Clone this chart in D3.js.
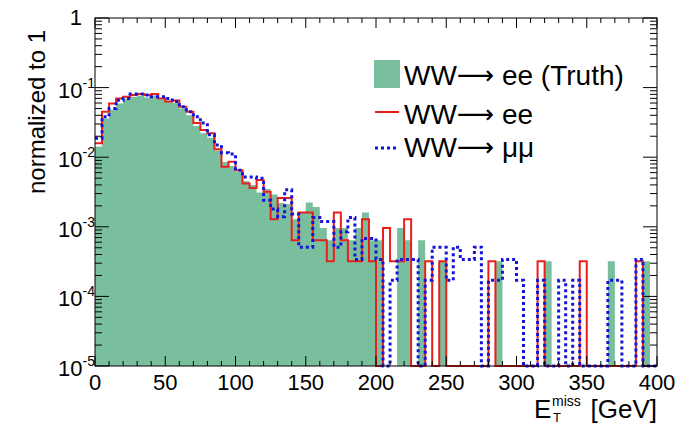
<!DOCTYPE html>
<html>
<head>
<meta charset="utf-8">
<script src="https://cdn.jsdelivr.net/npm/d3@7"></script>
<style>
body { margin: 0; background: #fff; }
text { font-family: "Liberation Sans", Arial, Helvetica, sans-serif; fill: #000; }
</style>
</head>
<body>
<div id="chart"></div>
<script>
// 5 GeV bins, 0 - 400 GeV
var binLow = d3.range(0, 400, 5);

// WW -> ee (Truth), filled
var truthEE = [
  0.0142, 0.036, 0.048, 0.059, 0.070, 0.074, 0.076, 0.072, 0.077, 0.068,
  0.063, 0.060, 0.050, 0.040, 0.028, 0.022, 0.019, 0.0125, 0.0085, 0.0075,
  0.0062, 0.0045, 0.0040, 0.0031, 0.0035, 0.0029, 0.0022, 0.0021, 0.00128, 0.0016,
  0.00224, 0.00192, 0.00096, 0.00064, 0.00096, 0.00096, 0.00064, 0.00096, 0.0016, 0.00064,
  0.00064, 0, 0, 0.00096, 0.00064, 0, 0.00064, 0, 0, 0.00032,
  0, 0, 0, 0, 0, 0, 0, 0.00032, 0, 0,
  0, 0, 0, 0, 0.00032, 0, 0, 0, 0, 0,
  0, 0, 0, 0.00032, 0, 0, 0, 0, 0.00032, 0
];

// WW -> ee, red line
var recoEE = [
  0.0158, 0.045, 0.059, 0.070, 0.074, 0.078, 0.081, 0.078, 0.081, 0.070,
  0.063, 0.065, 0.053, 0.045, 0.031, 0.0246, 0.022, 0.013, 0.0073, 0.0086,
  0.0065, 0.0042, 0.0036, 0.0047, 0.0032, 0.00128, 0.0026, 0.0026, 0.00064, 0.0016,
  0.0016, 0.00064, 0.00064, 0.00032, 0.0016, 0.00064, 0.00032, 0.00032, 0.00128, 0.00032,
  0, 0.00096, 0.00032, 0.00032, 0.00128, 0, 0, 0.00032, 0, 0.00032,
  0, 0, 0, 0, 0, 0, 0.00032, 0, 0, 0,
  0, 0, 0, 0.00032, 0, 0, 0, 0, 0, 0.00032,
  0, 0, 0, 0, 0, 0, 0, 0.00032, 0, 0
];

// WW -> mumu, blue dotted
var recoMuMu = [
  0.0187, 0.038, 0.050, 0.066, 0.070, 0.081, 0.081, 0.078, 0.074, 0.074,
  0.070, 0.063, 0.053, 0.045, 0.038, 0.031, 0.021, 0.015, 0.0116, 0.0111,
  0.0065, 0.0052, 0.0052, 0.0050, 0.0024, 0.0018, 0.0014, 0.0034, 0.00153, 0.00051,
  0.00051, 0.00136, 0.00119, 0.00119, 0.00051, 0.00085, 0.00136, 0.00034, 0.00068, 0.00068,
  0.00034, 0, 0.00017, 0.00034, 0.00034, 0.00034, 0, 0.00017, 0.00051, 0.00051,
  0.00017, 0.00051, 0.00034, 0.00034, 0.00051, 0, 0.00017, 0.00017, 0.00034, 0.00034,
  0.00017, 0, 0, 0.00017, 0, 0, 0.00017, 0, 0.00017, 0,
  0, 0, 0, 0.00017, 0.00017, 0, 0, 0.00034, 0, 0
];

var xMajorTicks = [0, 50, 100, 150, 200, 250, 300, 350, 400];
var yDecades = [-5, -4, -3, -2, -1, 0];
var legendNames = ["ee (Truth)", "ee", "\u03bc\u03bc"];

var W = 688, H = 426;
var margin = {top: 18, right: 31, bottom: 60, left: 95};
var pL = margin.left, pR = W - margin.right,
    pT = margin.top, pB = H - margin.bottom;

var svg = d3.select("#chart").append("svg")
    .attr("width", W)
    .attr("height", H);

var x = d3.scaleLinear().domain([0, 400]).range([pL, pR]);
var y = d3.scaleLog().domain([1e-5, 1]).range([pB, pT]).clamp(true);

function steps(vals) {
  var pts = binLow.map(function(b, i) { return [b, vals[i]]; });
  pts.push([400, vals[vals.length - 1]]);
  return pts;
}
function yv(v) { return v > 0 ? y(v) : pB; }

var area = d3.area()
    .curve(d3.curveStepAfter)
    .x(function(d) { return x(d[0]); })
    .y0(pB)
    .y1(function(d) { return yv(d[1]); });

var line = d3.line()
    .curve(d3.curveStepAfter)
    .x(function(d) { return x(d[0]); })
    .y(function(d) { return yv(d[1]); });

var plot = svg.append("g");
plot.append("path")
    .attr("d", area(steps(truthEE)))
    .attr("fill", "#7abf9d");

plot.append("path")
    .attr("d", line(steps(recoEE)))
    .attr("fill", "none")
    .attr("stroke", "#e8201c")
    .attr("stroke-width", 2);

plot.append("path")
    .attr("d", line(steps(recoMuMu)))
    .attr("fill", "none")
    .attr("stroke", "#1414d8")
    .attr("stroke-width", 3)
    .attr("stroke-dasharray", "3,3");

// frame + ticks (ticks inside on all four sides)
var axes = svg.append("g").attr("stroke", "#000").attr("stroke-width", 1);
axes.append("rect")
    .attr("x", pL).attr("y", pT)
    .attr("width", pR - pL).attr("height", pB - pT)
    .attr("fill", "none");

var xMinor = d3.range(0, 401, 10).filter(function(v) { return v % 50 !== 0; });
xMajorTicks.forEach(function(v) {
  axes.append("line").attr("x1", x(v)).attr("x2", x(v)).attr("y1", pB).attr("y2", pB - 10);
  axes.append("line").attr("x1", x(v)).attr("x2", x(v)).attr("y1", pT).attr("y2", pT + 10);
});
xMinor.forEach(function(v) {
  axes.append("line").attr("x1", x(v)).attr("x2", x(v)).attr("y1", pB).attr("y2", pB - 5);
  axes.append("line").attr("x1", x(v)).attr("x2", x(v)).attr("y1", pT).attr("y2", pT + 5);
});

yDecades.forEach(function(e) {
  var yy = y(Math.pow(10, e));
  axes.append("line").attr("x1", pL).attr("x2", pL + 14).attr("y1", yy).attr("y2", yy);
  axes.append("line").attr("x1", pR).attr("x2", pR - 14).attr("y1", yy).attr("y2", yy);
  if (e < 0) {
    for (var m = 2; m <= 9; m++) {
      var ym = y(m * Math.pow(10, e));
      axes.append("line").attr("x1", pL).attr("x2", pL + 7).attr("y1", ym).attr("y2", ym);
      axes.append("line").attr("x1", pR).attr("x2", pR - 7).attr("y1", ym).attr("y2", ym);
    }
  }
});

// tick labels
svg.append("g").selectAll("text")
    .data(xMajorTicks)
  .enter().append("text")
    .attr("x", function(d) { return x(d); })
    .attr("y", pB + 24)
    .attr("text-anchor", "middle")
    .attr("font-size", 22)
    .text(function(d) { return d; });

var yl = svg.append("g");
yDecades.forEach(function(e) {
  var yy = y(Math.pow(10, e));
  if (e === 0) {
    yl.append("text").attr("x", pL - 13).attr("y", yy + 7)
      .attr("text-anchor", "end").attr("font-size", 22).text("1");
  } else {
    var t = yl.append("text").attr("x", pL).attr("y", yy + 10)
      .attr("text-anchor", "end").attr("font-size", 22);
    t.append("tspan").text("10");
    t.append("tspan").attr("font-size", 14).attr("dy", -10).text(e);
  }
});

// axis titles
svg.append("text")
    .attr("transform", "translate(45,112) rotate(-90)")
    .attr("text-anchor", "middle")
    .attr("font-size", 24)
    .text("normalized to 1");

svg.append("text").attr("x", 534).attr("y", 418).attr("font-size", 26).text("E");
svg.append("text").attr("x", 552).attr("y", 406).attr("font-size", 14).text("miss");
svg.append("text").attr("x", 553).attr("y", 422).attr("font-size", 13).text("T");
svg.append("text").attr("x", pR).attr("y", 418).attr("text-anchor", "end")
    .attr("font-size", 26).text("[GeV]");

// legend
var leg = svg.append("g");
leg.append("rect").attr("x", 374).attr("y", 60).attr("width", 26).attr("height", 28)
    .attr("fill", "#7abf9d");
leg.append("line").attr("x1", 375).attr("x2", 399).attr("y1", 112).attr("y2", 112)
    .attr("stroke", "#e8201c").attr("stroke-width", 2);
leg.append("line").attr("x1", 375).attr("x2", 399).attr("y1", 148).attr("y2", 148)
    .attr("stroke", "#1414d8").attr("stroke-width", 3).attr("stroke-dasharray", "3,3");
var legY = [85, 124, 157];
legendNames.forEach(function(s, i) {
  var t = leg.append("text").attr("x", 404).attr("y", legY[i]).attr("font-size", 28);
  t.append("tspan").text("WW");
  t.append("tspan").attr("font-family", "DejaVu Sans").attr("font-size", 26).attr("dy", -1).text("\u27f6");
  t.append("tspan").attr("dy", 1).text(" " + s);
});
</script>
</body>
</html>
